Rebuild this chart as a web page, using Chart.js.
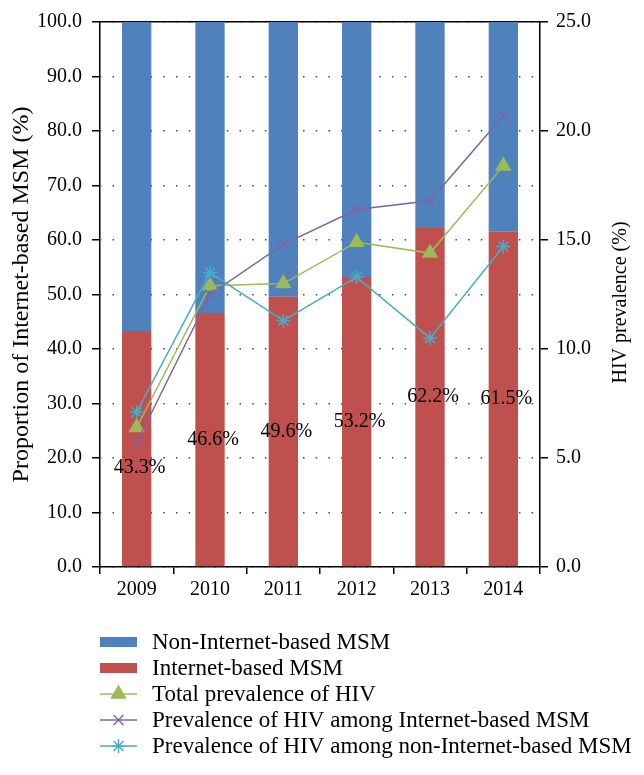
<!DOCTYPE html>
<html>
<head>
<meta charset="utf-8">
<script src="https://cdn.jsdelivr.net/npm/chart.js@4.4.0/dist/chart.umd.min.js"></script>
<style>
  body { margin: 0; background: #fff; }
  #box { width: 644px; height: 775px; }
</style>
</head>
<body>
<div id="box"><canvas id="chart" width="644" height="775"></canvas></div>
<script>
// Years on the x axis
const years = ["2009", "2010", "2011", "2012", "2013", "2014"];
// Share of MSM recruited online / offline (%), left axis
const internetShare = [43.3, 46.6, 49.6, 53.2, 62.2, 61.5];
const nonInternetShare = [56.7, 53.4, 50.4, 46.8, 37.8, 38.5];
// HIV prevalence (%), right axis
const totalPrev = [6.4, 12.9, 13.0, 14.9, 14.4, 18.4];
const internetPrev = [5.7, 12.5, 14.8, 16.4, 16.8, 20.7];
const nonInternetPrev = [7.1, 13.5, 11.3, 13.3, 10.5, 14.7];

const serif = "'Liberation Serif', 'DejaVu Serif', serif";
const tickFont = { family: serif, size: 20 };

// vertical nudge (px) of the % labels; the first one sits lower than the bar centre
const labelNudge = [19, 0, 0, 0, 0, 0];

// Write the Internet-based share in the middle of each red bar
const shareLabels = {
  id: "shareLabels",
  afterDatasetsDraw(chart) {
    const ctx = chart.ctx;
    const meta = chart.getDatasetMeta(0);
    ctx.save();
    ctx.font = "20px " + serif;
    ctx.fillStyle = "#000";
    ctx.textAlign = "center";
    ctx.textBaseline = "middle";
    meta.data.forEach((bar, i) => {
      const y = (bar.y + bar.base) / 2 + labelNudge[i];
      ctx.fillText(internetShare[i].toFixed(1) + "%", bar.x + 3, y);
    });
    ctx.restore();
  },
};

// Both axis titles read bottom to top, so draw them by hand
function sideTitle(ctx, text, x, y, size) {
  ctx.save();
  ctx.font = size + "px " + serif;
  ctx.fillStyle = "#000";
  ctx.textAlign = "center";
  ctx.textBaseline = "middle";
  ctx.translate(x, y);
  ctx.rotate(-Math.PI / 2);
  ctx.fillText(text, 0, 0);
  ctx.restore();
}

const axisTitles = {
  id: "axisTitles",
  afterDraw(chart) {
    const area = chart.chartArea;
    const midY = (area.top + area.bottom) / 2;
    sideTitle(chart.ctx, "Proportion of Internet-based MSM (%)", 22, midY, 24);
    sideTitle(chart.ctx, "HIV prevalence (%)", 621, midY + 8, 20);
  },
};

// One legend entry per row under the chart, in the same order as the picture
const stackedLegend = {
  id: "stackedLegend",
  afterDraw(chart) {
    const ctx = chart.ctx;
    const order = [1, 0, 2, 3, 4];
    const x0 = 100, x1 = 137;
    ctx.save();
    ctx.font = "23px " + serif;
    ctx.textBaseline = "middle";
    order.forEach((di, row) => {
      const ds = chart.data.datasets[di];
      const y = 642 + row * 26;
      if (ds.type === "bar") {
        ctx.fillStyle = ds.backgroundColor;
        ctx.fillRect(x0, y - 5, x1 - x0, 10);
      } else {
        ctx.strokeStyle = ds.borderColor;
        ctx.lineWidth = 1.5;
        ctx.beginPath();
        ctx.moveTo(x0, y);
        ctx.lineTo(x1, y);
        ctx.stroke();
        ctx.fillStyle = ds.pointBackgroundColor;
        ctx.strokeStyle = ds.pointBorderColor;
        ctx.lineWidth = ds.pointBorderWidth;
        Chart.helpers.drawPoint(ctx, {
          pointStyle: ds.pointStyle,
          radius: ds.pointRadius,
          rotation: 0,
          borderWidth: ds.pointBorderWidth,
        }, (x0 + x1) / 2, y);
      }
      ctx.fillStyle = "#000";
      ctx.fillText(ds.label, 152, y + 1);
    });
    ctx.restore();
  },
};

function lineSet(label, values, color, style, radius, order) {
  return {
    type: "line",
    label: label,
    data: values,
    yAxisID: "y1",
    borderColor: color,
    borderWidth: 1.5,
    tension: 0,
    pointStyle: style,
    pointRadius: radius,
    pointHoverRadius: radius,
    pointBackgroundColor: color,
    pointBorderColor: color,
    pointBorderWidth: 1.5,
    order: order,
  };
}

new Chart(document.getElementById("chart"), {
  data: {
    labels: years,
    datasets: [
      {
        type: "bar",
        label: "Internet-based MSM",
        data: internetShare,
        backgroundColor: "#C0504D",
        yAxisID: "y",
        barPercentage: 0.5,
        categoryPercentage: 0.8,
        order: 5,
      },
      {
        type: "bar",
        label: "Non-Internet-based MSM",
        data: nonInternetShare,
        backgroundColor: "#4F81BD",
        yAxisID: "y",
        barPercentage: 0.5,
        categoryPercentage: 0.8,
        order: 5,
      },
      lineSet("Total prevalence of HIV", totalPrev, "#9BBB59", "triangle", 8, 3),
      lineSet("Prevalence of HIV among Internet-based MSM", internetPrev, "#8064A2", "crossRot", 7, 2),
      lineSet("Prevalence of HIV among non-Internet-based MSM", nonInternetPrev, "#4BACC6", "star", 7, 1),
    ],
  },
  options: {
    responsive: false,
    animation: false,
    layout: { padding: { top: 22, left: 0, right: 0, bottom: 168 } },
    plugins: {
      legend: { display: false },
      tooltip: { enabled: false },
    },
    scales: {
      x: {
        stacked: true,
        offset: true,
        grid: { drawOnChartArea: false, offset: true, tickLength: 7, color: "#000", lineWidth: 1.5 },
        border: { color: "#000", width: 1.5 },
        ticks: { font: tickFont, color: "#000", padding: 4, maxRotation: 0 },
        afterFit: (s) => { s.height = 40; },
      },
      xTop: {
        type: "category",
        position: "top",
        labels: years,
        grid: { display: false },
        ticks: { display: false },
        border: { color: "#000", width: 1.5 },
        afterFit: (s) => { s.height = 0; },
      },
      y: {
        position: "left",
        stacked: true,
        min: 0,
        max: 100,
        ticks: {
          stepSize: 10,
          font: tickFont,
          color: "#000",
          padding: 10,
          callback: (v) => v.toFixed(1),
        },
        grid: { color: "#444", lineWidth: 1.5, tickLength: 8, tickColor: "#000" },
        border: { color: "#000", width: 1.5, dash: [1.5, 11.2], dashOffset: -12 },
        afterFit: (s) => { s.width = 100; },
      },
      y1: {
        position: "right",
        min: 0,
        max: 25,
        ticks: {
          stepSize: 5,
          font: tickFont,
          color: "#000",
          padding: 8,
          callback: (v) => v.toFixed(1),
        },
        grid: { drawOnChartArea: false, tickLength: 8, color: "#000", lineWidth: 1.5 },
        border: { color: "#000", width: 1.5 },
        afterFit: (s) => { s.width = 104; },
      },
    },
  },
  plugins: [shareLabels, axisTitles, stackedLegend],
});
</script>
</body>
</html>
